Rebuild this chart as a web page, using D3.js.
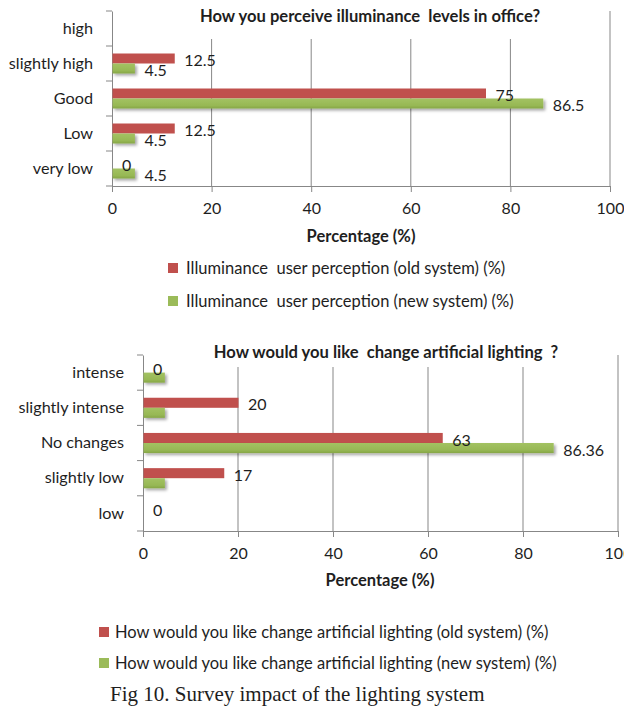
<!DOCTYPE html>
<html>
<head>
<meta charset="utf-8">
<script src="https://cdn.jsdelivr.net/npm/d3@7"></script>
<style>
  body { margin: 0; background: #fff; }
  text { font-family: Lato, "Open Sans", sans-serif; fill: #1e1e1e; white-space: pre; }
</style>
</head>
<body>
<script>
// chart 1 data
var cats1 = ["high", "slightly high", "Good", "Low", "very low"];
var old1 = [null, 12.5, 75, 12.5, 0];
var new1 = [null, 4.5, 86.5, 4.5, 4.5];
var oldLabels1 = [null, "12.5", "75", "12.5", "0"];
var newLabels1 = [null, "4.5", "86.5", "4.5", "4.5"];
var title1 = "How you perceive illuminance  levels in office?";
var legend1 = ["Illuminance  user perception (old system) (%)", "Illuminance  user perception (new system) (%)"];

// chart 2 data
var cats2 = ["intense", "slightly intense", "No changes", "slightly low", "low"];
var old2 = [0, 20, 63, 17, 0];
var new2 = [4.5, 4.5, 86.36, 4.5, null];
var oldLabels2 = ["0", "20", "63", "17", "0"];
var newLabels2 = [null, null, "86.36", null, null];
var title2 = "How would you like  change artificial lighting  ?";
var legend2 = ["How would you like change artificial lighting (old system) (%)", "How would you like change artificial lighting (new system) (%)"];

var xTicks = [0, 20, 40, 60, 80, 100];
var xTitle = "Percentage (%)";
var caption = "Fig 10. Survey impact of the lighting system";

var red = "#c0504d", green = "#9bbb59", axisGrey = "#878787";

var width = 624, height = 707;
var svg = d3.select("body").append("svg").attr("width", width).attr("height", height);

var defs = svg.append("defs");
var grad = defs.append("linearGradient").attr("id", "greenGrad")
    .attr("x1", 0).attr("y1", 0).attr("x2", 0).attr("y2", 1);
grad.append("stop").attr("offset", "0%").attr("stop-color", "#a3c262");
grad.append("stop").attr("offset", "70%").attr("stop-color", "#97b855");
grad.append("stop").attr("offset", "100%").attr("stop-color", "#86a646");
var shadow = defs.append("filter").attr("id", "shadow")
    .attr("x", "-5%").attr("y", "-30%").attr("width", "120%").attr("height", "180%");
shadow.append("feDropShadow").attr("dx", 2).attr("dy", 2).attr("stdDeviation", 1.6)
    .attr("flood-color", "#000").attr("flood-opacity", 0.35);

function drawChart(cfg) {
    var g = svg.append("g");

    var x = d3.scaleLinear().domain([0, 100]).range([cfg.left, cfg.right]);
    var y = d3.scaleBand().domain(cfg.cats).range([cfg.top, cfg.bottom]);
    var sub = d3.scaleBand().domain(["old", "new"]).range([0, y.bandwidth()]).paddingOuter(0.75);

    // gridlines
    g.append("g").selectAll("line").data(xTicks.slice(1)).enter().append("line")
        .attr("x1", function (d) { return x(d); })
        .attr("x2", function (d) { return x(d); })
        .attr("y1", cfg.top)
        .attr("y2", cfg.bottom)
        .attr("stroke", axisGrey)
        .attr("stroke-width", 1);

    // title with white box over the grid
    var tg = g.append("g");
    var tbox = tg.append("rect").attr("fill", "#fff");
    var tt = tg.append("text")
        .attr("x", cfg.titleX)
        .attr("y", cfg.titleY)
        .attr("text-anchor", "middle")
        .style("font-weight", "bold")
        .style("font-size", "16.6px")
        .text(cfg.title);
    var bb = tt.node().getBBox();
    tbox.attr("x", bb.x - 22).attr("width", bb.width + 44)
        .attr("y", cfg.top - 2).attr("height", cfg.gridTop - cfg.top + 2);

    // axes
    var yAxis = g.append("g")
        .attr("transform", "translate(" + cfg.left + ",0)")
        .call(d3.axisLeft(y).tickSize(0).tickPadding(19));
    yAxis.select(".domain").attr("stroke", axisGrey);
    yAxis.selectAll("text").style("font-size", "16.2px").attr("fill", "#1e1e1e").style("font-family", "Lato, sans-serif");
    // tick marks between categories
    yAxis.append("g").selectAll("line").data(cfg.cats.concat([null])).enter().append("line")
        .attr("x1", -6).attr("x2", 0)
        .attr("y1", function (d, i) { return cfg.top + i * y.step(); })
        .attr("y2", function (d, i) { return cfg.top + i * y.step(); })
        .attr("stroke", axisGrey);

    var xAxis = g.append("g")
        .attr("transform", "translate(0," + cfg.bottom + ")")
        .call(d3.axisBottom(x).tickValues(xTicks).tickSize(6).tickPadding(11).tickSizeOuter(0));
    xAxis.select(".domain").attr("stroke", axisGrey);
    xAxis.selectAll(".tick line").attr("stroke", axisGrey);
    xAxis.selectAll("text").style("font-size", "16px").attr("fill", "#1e1e1e").style("font-family", "Lato, sans-serif");

    g.append("text")
        .attr("x", cfg.xTitleX)
        .attr("y", cfg.xTitleY)
        .attr("text-anchor", "middle")
        .style("font-weight", "bold")
        .style("font-size", "16.5px")
        .text(xTitle);

    // bars
    var rows = cfg.cats.map(function (c, i) {
        return { cat: c, old: cfg.old[i], nw: cfg.nw[i], oldLabel: cfg.oldLabels[i], newLabel: cfg.newLabels[i] };
    });

    g.append("g").selectAll("rect").data(rows.filter(function (d) { return d.old !== null; })).enter()
        .append("rect")
        .attr("x", x(0) + 0.5)
        .attr("y", function (d) { return y(d.cat) + sub("old"); })
        .attr("width", function (d) { return Math.max(0, x(d.old) - x(0)); })
        .attr("height", sub.bandwidth())
        .attr("fill", red);

    g.append("g").selectAll("rect").data(rows.filter(function (d) { return d.nw !== null; })).enter()
        .append("rect")
        .attr("x", x(0) + 0.5)
        .attr("y", function (d) { return y(d.cat) + sub("new"); })
        .attr("width", function (d) { return Math.max(0, x(d.nw) - x(0)); })
        .attr("height", sub.bandwidth())
        .attr("fill", "url(#greenGrad)")
        .attr("filter", "url(#shadow)");

    // value labels
    g.append("g").selectAll("text").data(rows.filter(function (d) { return d.oldLabel !== null; })).enter()
        .append("text")
        .attr("x", function (d) { return x(d.old) + 10; })
        .attr("y", function (d) { return y(d.cat) + sub("old") + sub.bandwidth() / 2 + 2; })
        .attr("dy", "0.35em")
        .style("font-size", "16px")
        .text(function (d) { return d.oldLabel; });

    g.append("g").selectAll("text").data(rows.filter(function (d) { return d.newLabel !== null; })).enter()
        .append("text")
        .attr("x", function (d) { return x(d.nw) + 10; })
        .attr("y", function (d) { return y(d.cat) + sub("new") + sub.bandwidth() / 2 + 2; })
        .attr("dy", "0.35em")
        .style("font-size", "16px")
        .text(function (d) { return d.newLabel; });

    // legend
    var lg = g.append("g").selectAll("g").data(cfg.legend).enter().append("g")
        .attr("transform", function (d, i) { return "translate(" + cfg.legendX + "," + cfg.legendY[i] + ")"; });
    lg.append("rect")
        .attr("x", 0).attr("y", -5).attr("width", 10).attr("height", 10)
        .attr("fill", function (d, i) { return i === 0 ? red : green; });
    lg.append("text")
        .attr("x", cfg.legendTextDx)
        .attr("y", 0)
        .attr("dy", "0.35em")
        .style("font-size", "16.5px")
        .text(function (d) { return d; });
}

drawChart({
    cats: cats1, old: old1, nw: new1, oldLabels: oldLabels1, newLabels: newLabels1,
    title: title1, legend: legend1,
    left: 112, right: 610, top: 11, bottom: 186, gridTop: 39,
    titleX: 370, titleY: 22, xTitleX: 361, xTitleY: 242,
    legendX: 168, legendY: [268, 301], legendTextDx: 18
});

drawChart({
    cats: cats2, old: old2, nw: new2, oldLabels: oldLabels2, newLabels: newLabels2,
    title: title2, legend: legend2,
    left: 143, right: 618, top: 355, bottom: 531, gridTop: 367,
    titleX: 386, titleY: 358, xTitleX: 380, xTitleY: 586,
    legendX: 99, legendY: [632, 663], legendTextDx: 16
});

svg.append("text")
    .attr("x", 110)
    .attr("y", 701)
    .style("font-size", "21px")
    .style("font-family", "'Liberation Serif', serif")
    .text(caption);
</script>
</body>
</html>
